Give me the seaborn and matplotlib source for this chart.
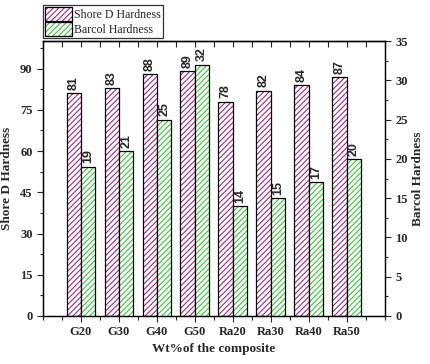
import numpy as np
import pandas as pd
import matplotlib
matplotlib.use("Agg")
import matplotlib.pyplot as plt
import matplotlib.patches as mpatches
from matplotlib.ticker import MultipleLocator, FixedLocator
import seaborn as sns

categories = ["G20", "G30", "G40", "G50", "Ra20", "Ra30", "Ra40", "Ra50"]
shore_d = [81, 83, 88, 89, 78, 82, 84, 87]
barcol = [19, 21, 25, 32, 14, 15, 17, 20]
series = ["Shore D Hardness", "Barcol Hardness"]

sns.set_theme(style="ticks")
plt.rcParams["font.family"] = ["Liberation Serif", "DejaVu Serif"]
plt.rcParams["hatch.linewidth"] = 0.8

purple = "#A02A86"
green = "#3CC43C"

zeros = [0] * len(categories)
df1 = pd.DataFrame({"cat": categories * 2, "val": shore_d + zeros,
                    "series": [series[0]] * 8 + [series[1]] * 8})
df2 = pd.DataFrame({"cat": categories * 2, "val": zeros + barcol,
                    "series": [series[0]] * 8 + [series[1]] * 8})

fig = plt.figure(figsize=(4.3, 3.64), dpi=100)
ax1 = fig.add_axes([0.1, 0.132, 0.795, 0.755])
ax2 = ax1.twinx()

def draw(ax, data, color, ymax):
    sns.barplot(data=data, x="cat", y="val", hue="series", hue_order=series,
                order=categories, width=0.76, errorbar=None, ax=ax,
                palette=["white", "white"], legend=False, dodge=True, gap=0)
    ax.set_ylim(0, ymax)
    for p in list(ax.patches):
        h = p.get_height()
        if np.isnan(h) or h == 0:
            p.set_visible(False)
            continue
        p.set_facecolor("white")
        p.set_edgecolor(color)
        p.set_hatch("//////")
        p.set_linewidth(0)
        r = mpatches.Rectangle((p.get_x(), p.get_y()), p.get_width(), h,
                               fill=False, edgecolor="black", linewidth=0.9, zorder=3)
        ax.add_patch(r)
        ax.text(p.get_x() + p.get_width() / 2, h + ymax * 0.012,
                f"{int(h)}", rotation=90, ha="center", va="bottom",
                fontsize=9, fontweight="bold", fontfamily=["Liberation Sans"])

draw(ax1, df1, purple, 100)
draw(ax2, df2, green, 35)

ax1.set_xlim(-1, 8)
ax1.set_ylim(0, 100)
ax2.set_ylim(0, 35)

ax1.yaxis.set_major_locator(MultipleLocator(15))
ax1.yaxis.set_minor_locator(MultipleLocator(7.5))
ax2.yaxis.set_major_locator(MultipleLocator(5))
ax2.yaxis.set_minor_locator(MultipleLocator(2.5))
ax1.xaxis.set_major_locator(FixedLocator(range(8)))
ax1.xaxis.set_minor_locator(FixedLocator(np.arange(-1, 8.01, 0.5)))

ax1.tick_params(axis="x", which="both", direction="out", top=False, bottom=True)
ax1.tick_params(axis="x", which="major", length=4, width=0.8, labelsize=9)
ax1.tick_params(axis="x", which="minor", length=3, width=0.8)
ax2.tick_params(axis="x", which="both", top=False, bottom=False)
ax1.tick_params(axis="y", which="major", direction="out", length=4, width=0.8, labelsize=9)
ax1.tick_params(axis="y", which="minor", direction="out", length=2.5, width=0.8)
ax2.tick_params(axis="y", which="major", direction="out", length=4, width=0.8, labelsize=9)
ax2.tick_params(axis="y", which="minor", direction="out", length=2.5, width=0.8)

for lab in ax1.get_xticklabels() + ax1.get_yticklabels() + ax2.get_yticklabels():
    lab.set_fontweight("bold")

ax1.set_xlabel("Wt%of the composite", fontsize=9.5, fontweight="bold", labelpad=3)
ax1.set_ylabel("Shore D Hardness", fontsize=9.5, fontweight="bold", labelpad=5)
ax2.set_ylabel("Barcol Hardness", fontsize=9.5, fontweight="bold", labelpad=3)

for ax in (ax1, ax2):
    for s in ax.spines.values():
        s.set_visible(True)
        s.set_linewidth(0.9)
        s.set_color("black")

ax_top = ax1.secondary_xaxis("top")
ax_top.xaxis.set_major_locator(FixedLocator(np.arange(-1, 8.01, 0.5)))
ax_top.tick_params(axis="x", direction="in", length=4, width=0.8, labeltop=False)
ax_top.spines["top"].set_linewidth(0.9)

h1 = mpatches.Patch(facecolor="white", edgecolor=purple, hatch="//////", linewidth=0)
h2 = mpatches.Patch(facecolor="white", edgecolor=green, hatch="//////", linewidth=0)
b = mpatches.Patch(fill=False, edgecolor="black", linewidth=0.9)
leg = ax1.legend([(h1, b), (h2, b)], series, loc="lower left", bbox_to_anchor=(0, 1.012),
                 borderaxespad=0, frameon=True, fancybox=False, edgecolor="black",
                 fontsize=8.6, handlelength=2.3, handleheight=1.35, borderpad=0.15,
                 labelspacing=0.12, handletextpad=0.15)
leg.get_frame().set_linewidth(0.9)

fig.savefig("out.png", dpi=100)
